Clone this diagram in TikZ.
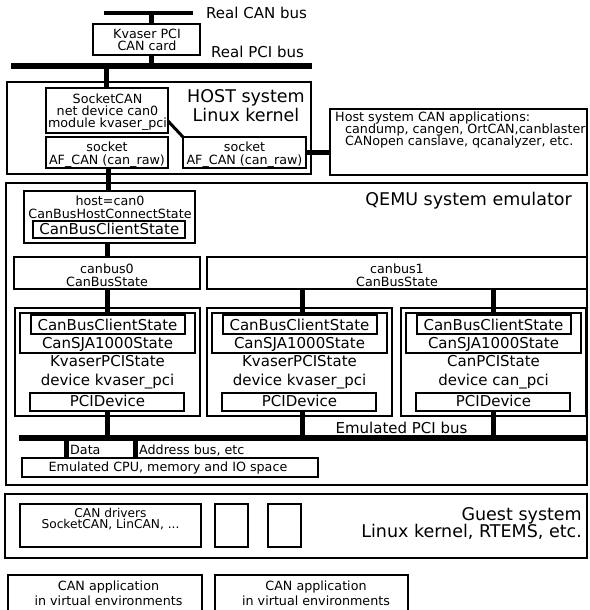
\documentclass[tikz,border=0pt]{standalone}
\usepackage{fontspec}
\setmainfont{DejaVu Sans}
\usetikzlibrary{calc}
\tikzset{
  box/.style={draw, line width=2pt, inner sep=0pt, outer sep=0pt},
  txtL/.style={font=\fontsize{17.5}{20}\selectfont, inner sep=0pt, anchor=base},
  txtM/.style={font=\fontsize{15}{17}\selectfont, inner sep=0pt, anchor=base},
  txtS/.style={font=\fontsize{12.7}{12.2}\selectfont, inner sep=0pt, anchor=base},
  txtXS/.style={font=\fontsize{12.2}{11}\selectfont, inner sep=0pt, anchor=base},
  stem/.style={line width=5pt},
  bus/.style={line width=6pt},
}
\newcommand\mybox[5]{\node[box, minimum width={#4pt-#2pt}, minimum height={#5pt-#3pt}] (#1) at ({(#2+#4)/2},{(#3+#5)/2}) {};}
\newcommand\mydevice[4]{%
  \begin{scope}[xshift=#2]
    \mybox{dev#1}{15}{308}{200}{416}
    \mybox{sja#1}{19.5}{312.5}{195}{353.3}
    \mybox{cli#1}{30.7}{315}{185}{334}
    \mybox{pcid#1}{30}{393}{184}{411}
    \node[txtM] (tcli#1) at (107.5,330) {CanBusClientState};
    \node[txtM] (tsja#1) at (107.5,348.3) {CanSJA1000State};
    \node[txtM] (tst#1) at (107.5,366.7) {#3};
    \node[txtM] (tdv#1) at (107.5,385.7) {#4};
    \node[txtM] (tpd#1) at (107.5,406) {PCIDevice};
  \end{scope}}
\begin{document}
\begin{tikzpicture}[x=1pt,y=-1pt]
\useasboundingbox (0,0) rectangle (589,610);
\clip (0,0) rectangle (589,610);

% ---- real hardware
\coordinate (canA) at (104,13); \coordinate (canB) at (193,13);
\draw[line width=4pt] (canA) -- (canB);
\node[txtM, anchor=base west] (canlbl) at (206,18.3) {Real CAN bus};
\mybox{kvaser}{93}{24}{200}{55}
\node[txtS] (kv1) at (147,38.3) {Kvaser PCI};
\node[txtS] (kv2) at (147,50.7) {CAN card};
\coordinate (s1) at (151,0);
\draw[stem] (kvaser.north -| s1) -- (canA -| s1);
\coordinate (pciA) at (11,66); \coordinate (pciB) at (312,66);
\draw[bus] (pciA) -- (pciB);
\draw[stem] (kvaser.south -| s1) -- (pciA -| s1);
\node[txtM, anchor=base west] (pcilbl) at (211,57.3) {Real PCI bus};

% ---- host system
\mybox{host}{7}{82}{311}{174}
\mybox{sockcan}{46}{88}{168}{133}
\mybox{sock1}{46}{137}{168}{168}
\mybox{sock2}{183}{137}{306}{168}
\node[txtS] (sc1) at (107.5,103.3) {SocketCAN};
\node[txtS] (sc2) at (107.5,115.7) {net device can0};
\node[txtS] (sc3) at (107.5,127.7) {module kvaser\_pci};
\node[txtS] (so1a) at (107,151) {socket};
\node[txtS] (so1b) at (107,164.3) {AF\_CAN (can\_raw)};
\node[txtS] (so2a) at (244.5,151) {socket};
\node[txtS] (so2b) at (244.5,164.3) {AF\_CAN (can\_raw)};
\node[txtL] (hostt1) at (246,102) {HOST system};
\node[txtL] (hostt2) at (246,121) {Linux kernel};
\coordinate (s2) at (106,0);
\draw[stem] (pciA -| s2) -- (sockcan.north -| s2);
\draw[line width=3pt] ($(sockcan.south east)+(0,-12)$) -- (sock2.north west);

% ---- host applications
\mybox{apps}{330}{109}{587}{175}
\draw[stem] (sock2.east) -- (apps.west |- sock2.east);
\node[txtS, anchor=base west] (ap1) at (335,121.7) {Host system CAN applications:};
\node[txtS, anchor=base west] (ap2) at (345,133.4) {candump, cangen, OrtCAN,canblaster};
\node[txtS, anchor=base west] (ap3) at (345,145.1) {CANopen canslave, qcanalyzer, etc.};

% ---- QEMU
\mybox{qemu}{6}{183}{587}{485}
\node[txtL, anchor=base east] (qemut) at (572,205) {QEMU system emulator};
\mybox{hostconn}{24}{191}{195}{243}
\node[txtS] (hc1) at (110,205) {host=can0};
\node[txtS] (hc2) at (110,218.3) {CanBusHostConnectState};
\mybox{hcclient}{33}{221}{185}{238}
\node[txtM] (hc3) at (109.3,234.3) {CanBusClientState};
\coordinate (s3) at (108,0);
\draw[stem] (sock1.south -| s3) -- (hostconn.north -| s3);

\mybox{canbus0}{14}{257}{200}{289}
\node[txtS] (cb0a) at (107,273.3) {canbus0};
\node[txtS] (cb0b) at (107,286) {CanBusState};
\mybox{canbus1}{207}{257}{587}{289}
\node[txtS] (cb1a) at (397,273.3) {canbus1};
\node[txtS] (cb1b) at (397,286) {CanBusState};
\coordinate (stA) at (107,0); \coordinate (stB) at (302,0); \coordinate (stC) at (493,0);
\draw[stem] (hostconn.south -| stA) -- (canbus0.north -| stA);

\mydevice{1}{0}{KvaserPCIState}{device kvaser\_pci}
\mydevice{2}{192}{KvaserPCIState}{device kvaser\_pci}
\mydevice{3}{386}{CanPCIState}{device can\_pci}

\draw[stem] (canbus0.south -| stA) -- (cli1.north -| stA);
\draw[stem] (canbus1.south -| stB) -- (cli2.north -| stB);
\draw[stem] (canbus1.south -| stC) -- (cli3.north -| stC);

\coordinate (ebA) at (19,438); \coordinate (ebB) at (587,438);
\draw[bus] (ebA) -- (ebB);
\draw[stem] (pcid1.south -| stA) -- (ebA -| stA);
\draw[stem] (pcid2.south -| stB) -- (ebA -| stB);
\draw[stem] (pcid3.south -| stC) -- (ebA -| stC);
\node[txtM] (eblbl) at (401.5,433.3) {Emulated PCI bus};

\mybox{cpu}{22}{458}{318}{477}
\node[txtS] (cput) at (168,471.7) {Emulated CPU, memory and IO space};
\coordinate (d1) at (66,0); \coordinate (d2) at (135,0);
\draw[stem] (ebA -| d1) -- (cpu.north -| d1);
\draw[stem] (ebA -| d2) -- (cpu.north -| d2);
\node[txtS, anchor=base west] (datat) at (70,454) {Data};
\node[txtS, anchor=base west] (addrt) at (139,454) {Address bus, etc};

% ---- guest
\mybox{guest}{5}{494}{587}{558}
\mybox{drivers}{20}{504}{201}{547}
\node[txtXS] (dr1) at (110.5,517.4) {CAN drivers};
\node[txtXS] (dr2) at (110.5,528.2) {SocketCAN, LinCAN, ...};
\mybox{small1}{215}{504}{248}{547}
\mybox{small2}{268}{504}{301}{547}
\node[txtL, anchor=base east] (gt1) at (582,520.7) {Guest system};
\node[txtL, anchor=base east] (gt2) at (582,537.7) {Linux kernel, RTEMS, etc.};

% ---- virtual applications
\mybox{vapp1}{8}{575}{202}{625}
\mybox{vapp2}{215}{575}{408}{625}
\node[txtS] (va1a) at (108.5,590) {CAN application};
\node[txtS] (va1b) at (108.5,605) {in virtual environments};
\node[txtS] (va2a) at (316,590) {CAN application};
\node[txtS] (va2b) at (316,605) {in virtual environments};
\end{tikzpicture}
\end{document}
